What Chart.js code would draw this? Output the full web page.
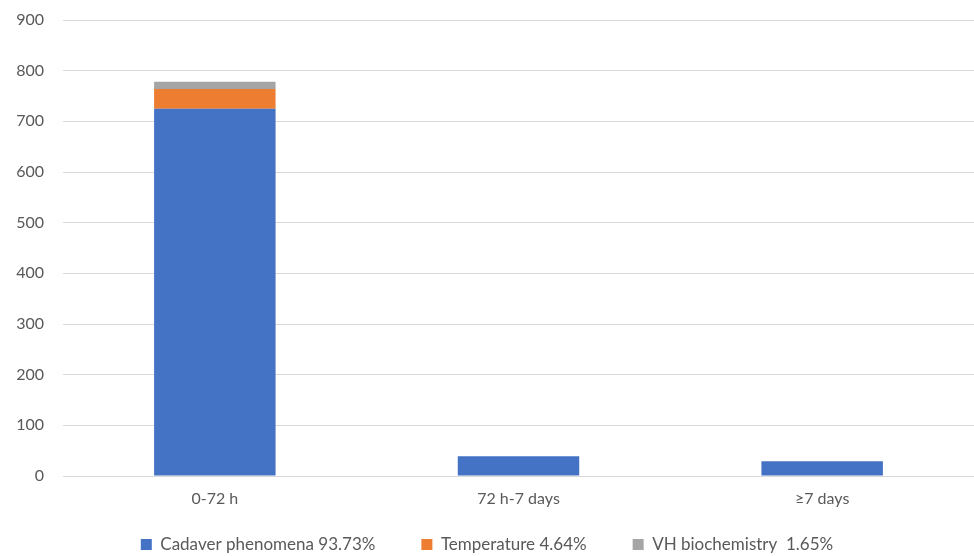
<!DOCTYPE html>
<html>
<head>
<meta charset="utf-8">
<script src="https://cdn.jsdelivr.net/npm/chart.js@4"></script>
<style>
html,body{margin:0;padding:0;background:#fff;}
#wrap{width:974px;height:556px;position:relative;}
</style>
</head>
<body>
<div id="wrap"><canvas id="c"></canvas></div>
<script>
const categories = ["0-72 h", "72 h-7 days", "\u22657 days"];
const cadaverValues = [725, 39, 29];
const temperatureValues = [39, 0, 0];
const vhValues = [14, 0, 0];
const seriesLabels = ["Cadaver phenomena 93.73%", "Temperature 4.64%", "VH biochemistry  1.65%"];
const yTicks = [0, 100, 200, 300, 400, 500, 600, 700, 800, 900];

const FONT = "Lato, 'Liberation Sans', sans-serif";
const TXT = "#595959";
const LEGEND_HEIGHT = 48;
const LEGEND_TOP = 490;

const legendHeightFix = {
  id: 'legendHeightFix',
  afterInit(chart) {
    const lg = chart.legend;
    if (!lg) return;
    const orig = lg.fit;
    lg.fit = function () { orig.call(this); this.height = LEGEND_HEIGHT; };
  },
  afterLayout(chart) {
    const lg = chart.legend;
    if (!lg) return;
    lg.top = LEGEND_TOP;
    lg.bottom = chart.height;
    lg.height = chart.height - LEGEND_TOP;
  }
};

new Chart(document.getElementById('c'), {
  type: 'bar',
  data: {
    labels: categories,
    datasets: [
      {label: seriesLabels[0], data: cadaverValues, backgroundColor: '#4472C4'},
      {label: seriesLabels[1], data: temperatureValues, backgroundColor: '#ED7D31'},
      {label: seriesLabels[2], data: vhValues, backgroundColor: '#A5A5A5'}
    ]
  },
  plugins: [legendHeightFix],
  options: {
    responsive: true,
    maintainAspectRatio: false,
    animation: false,
    datasets: {bar: {categoryPercentage: 1, barPercentage: 0.4, borderWidth: 0}},
    layout: {padding: {top: 20, right: 0, left: 0, bottom: 0}},
    plugins: {
      tooltip: {enabled: false},
      legend: {
        position: 'bottom',
        labels: {
          boxWidth: 11, boxHeight: 11, padding: 46,
          color: TXT,
          font: {family: FONT, size: 17}
        }
      }
    },
    scales: {
      x: {
        stacked: true,
        afterFit: (s) => { s.height = 32; },
        grid: {display: false, drawTicks: false},
        border: {display: true, color: '#D9D9D9', width: 1},
        ticks: {color: TXT, font: {family: FONT, size: 16}, padding: 13}
      },
      y: {
        stacked: true,
        min: 0, max: 900,
        afterBuildTicks: (s) => { s.ticks = yTicks.map(v => ({value: v})); },
        afterFit: (s) => { s.width = 63; s.paddingTop = 0; s.paddingBottom = 0; },
        grid: {color: '#D9D9D9', lineWidth: 1, drawTicks: false},
        border: {display: false},
        ticks: {color: TXT, font: {family: FONT, size: 16}, padding: 19}
      }
    }
  }
});
</script>
</body>
</html>
